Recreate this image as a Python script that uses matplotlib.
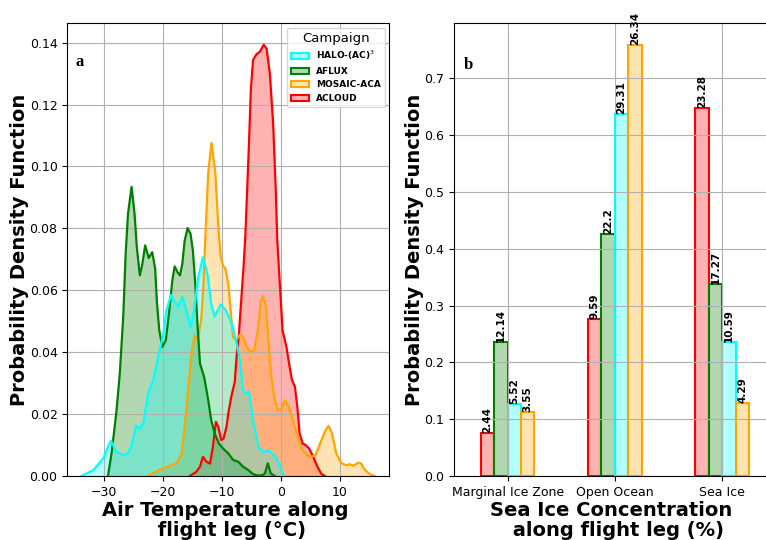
import matplotlib
matplotlib.use("Agg")
import matplotlib.pyplot as plt
from matplotlib.patches import Patch

# ---------------- data ----------------
campaigns = ["HALO-(AC)$^3$", "AFLUX", "MOSAIC-ACA", "ACLOUD"]
colors = {"HALO-(AC)$^3$": "cyan", "AFLUX": "green",
          "MOSAIC-ACA": "orange", "ACLOUD": "red"}

# air temperature PDFs (temperature in deg C, density)
halo_t = [-33.8, -31.8, -30.1, -29.3, -28.8, -28.3, -27.9, -26.7, -25.9, -25.3,
          -24.5, -23.9, -23.3, -22.5, -21.6, -20.8, -19.9, -19.4, -18.6, -18.0,
          -17.4, -16.7, -16.0, -15.3, -14.7, -14.0, -13.2, -12.4, -11.8, -11.2,
          -10.2, -9.4, -8.4, -7.6, -6.9, -6.4, -5.9, -5.4, -4.7, -3.7, -3.0,
          -2.1, -1.0, -0.2, 0.5]
halo_pdf = [0.0, 0.0019, 0.0057, 0.0095, 0.0114, 0.0095, 0.0078, 0.0068, 0.0073, 0.0100,
            0.0163, 0.0154, 0.0170, 0.0266, 0.0310, 0.0384, 0.0460, 0.0535, 0.0585, 0.0562,
            0.0548, 0.0578, 0.0535, 0.0481, 0.0535, 0.0642, 0.0707, 0.0648, 0.0556, 0.0515,
            0.0554, 0.0537, 0.0497, 0.0438, 0.0374, 0.0277, 0.0266, 0.0274, 0.0180, 0.0089, 0.0078,
            0.0082, 0.0066, 0.0035, 0.0]

aflux_t = [-29.3, -28.7, -27.9, -27.3, -26.7, -26.3, -25.9, -25.3, -24.8, -24.4,
           -23.9, -23.5, -23.0, -22.4, -21.8, -21.3, -21.0, -20.6, -20.1, -19.5,
           -18.9, -18.4, -18.0, -17.5, -17.1, -16.7, -16.3, -15.8, -15.3, -14.9,
           -14.5, -14.1, -13.7, -13.0, -12.3, -11.8, -11.2, -10.5, -9.8, -8.9,
           -8.1, -7.2, -6.4, -5.5, -4.7, -4.0, -3.2, -2.7, -2.2, -1.7, -1.0]
aflux_pdf = [0.0, 0.0073, 0.0202, 0.0330, 0.0520, 0.0720, 0.0848, 0.0934, 0.0848, 0.0737,
             0.0648, 0.0682, 0.0745, 0.0704, 0.0723, 0.0670, 0.0560, 0.0470, 0.0417, 0.0438,
             0.0535, 0.0631, 0.0677, 0.0658, 0.0648, 0.0685, 0.0760, 0.0801, 0.0782, 0.0728,
             0.0621, 0.0481, 0.0363, 0.0320, 0.0245, 0.0180, 0.0137, 0.0105, 0.0089, 0.0073,
             0.0052, 0.0046, 0.0030, 0.0019, 0.0006, 0.0002, 0.0002, 0.0008, 0.0041, 0.0008, 0.0]

mosaic_t = [-22.5, -20.5, -18.8, -17.6, -16.8, -16.3, -15.7, -15.1, -14.6, -14.1,
            -13.5, -13.1, -12.7, -12.3, -11.75, -11.1, -10.6, -10.2, -9.8, -9.4,
            -8.9, -8.5, -8.1, -7.6, -6.9, -6.4, -5.8, -5.1, -4.5, -3.8,
            -3.4, -3.0, -2.5, -2.1, -1.6, -1.0, -0.5, 0.1, 0.7, 1.2,
            1.9, 2.7, 3.5, 4.4, 5.2, 5.9, 6.9, 7.6, 8.1, 8.7,
            9.4, 10.3, 11.1, 11.7, 12.3, 13.1, 13.6, 14.2, 15.1, 15.9]
mosaic_pdf = [0.0, 0.0021, 0.0033, 0.0043, 0.0073, 0.0159, 0.0277, 0.0406, 0.0454, 0.0438,
              0.0504, 0.0626, 0.0815, 0.0980, 0.1076, 0.0980, 0.0810, 0.0710, 0.0680, 0.0670,
              0.0620, 0.0535, 0.0449, 0.0438, 0.0457, 0.0449, 0.0417, 0.0400, 0.0406, 0.0481,
              0.0567, 0.0581, 0.0546, 0.0438, 0.0320, 0.0245, 0.0213, 0.0215, 0.0245, 0.0229,
              0.0191, 0.0137, 0.0089, 0.0068, 0.0062, 0.0068, 0.0116, 0.0148, 0.0162, 0.0137,
              0.0073, 0.0041, 0.0035, 0.0038, 0.0033, 0.0043, 0.0041, 0.0021, 0.0006, 0.0]

acloud_t = [-15.4, -14.3, -13.7, -13.2, -12.6, -12.0, -11.5, -11.0, -10.6, -10.1,
            -9.7, -9.2, -8.9, -8.4, -7.8, -7.5, -7.1, -6.7, -6.3, -6.0,
            -5.7, -5.37, -5.08, -4.7, -4.1, -3.56, -2.9, -2.4, -1.86, -1.3,
            -0.85, -0.6, -0.1, 0.3, 0.96, 1.5, 1.9, 2.4, 2.8, 3.2,
            3.7, 4.2, 4.8, 5.5, 6.2, 6.9, 7.5]
acloud_pdf = [0.0, 0.0014, 0.0030, 0.0062, 0.0046, 0.0040, 0.0095, 0.0175, 0.0159, 0.0116,
              0.0121, 0.0160, 0.0202, 0.0256, 0.0304, 0.0384, 0.0460, 0.0570, 0.0680, 0.0780,
              0.0924, 0.1086, 0.1247, 0.1344, 0.1363, 0.1370, 0.1393, 0.1380, 0.1300, 0.1140,
              0.0924, 0.0763, 0.0600, 0.0470, 0.0417, 0.0352, 0.0310, 0.0288, 0.0223, 0.0137,
              0.0105, 0.0100, 0.0089, 0.0062, 0.0030, 0.0006, 0.0]

# sea ice concentration classes
sic_classes = ["Marginal Ice Zone", "Open Ocean", "Sea Ice"]
sic_acloud = [0.0763, 0.2758, 0.6484]
sic_aflux = [0.2365, 0.4260, 0.3374]
sic_halo = [0.1267, 0.6366, 0.2365]
sic_mosaic = [0.1127, 0.7593, 0.1291]
lab_acloud = ["2.44", "9.59", "23.28"]
lab_aflux = ["12.14", "22.2", "17.27"]
lab_halo = ["5.52", "29.31", "10.59"]
lab_mosaic = ["3.55", "26.34", "4.29"]

# ---------------- figure ----------------
W, H = 766, 540
fig = plt.figure(figsize=(W / 100, H / 100), dpi=100)
ax1 = fig.add_axes([67.3 / W, 64 / H, 322 / W, 452.6 / H])
ax2 = fig.add_axes([454 / W, 64 / H, 321.8 / W, 452.6 / H])

ALPHA = 0.3
LW = 1.6
LABEL_KW = dict(fontsize=14, fontweight="bold")

# panel a: temperature densities (drawn back to front)
curves = [("ACLOUD", acloud_t, acloud_pdf),
          ("MOSAIC-ACA", mosaic_t, mosaic_pdf),
          ("AFLUX", aflux_t, aflux_pdf),
          ("HALO-(AC)$^3$", halo_t, halo_pdf)]
for name, t, p in curves:
    c = colors[name]
    ax1.fill_between(t, p, 0, color=c, alpha=ALPHA, linewidth=0)
    ax1.plot(t, p, color=c, lw=LW)

ax1.set_xlim(-36.2, 18.4)
ax1.set_ylim(0, 0.1462)
ax1.set_xticks([-30, -20, -10, 0, 10])
ax1.set_yticks([0, 0.02, 0.04, 0.06, 0.08, 0.10, 0.12, 0.14])
ax1.yaxis.set_major_formatter(matplotlib.ticker.FormatStrFormatter("%.2f"))
ax1.grid(True)
ax1.tick_params(labelsize=9)
ax1.set_xlabel("Air Temperature along \n flight leg (°C)", labelpad=1.5,
               linespacing=1.08, **LABEL_KW)
ax1.set_ylabel("Probability Density Function", labelpad=0.5, **LABEL_KW)
ax1.text(0.024, 0.906, "a", transform=ax1.transAxes, fontsize=12,
         fontweight="bold", family="Liberation Serif", va="baseline")

handles = [Patch(facecolor=matplotlib.colors.to_rgba(colors[n], ALPHA),
                 edgecolor=colors[n], linewidth=1.5, label=n) for n in campaigns]
ax1.legend(handles=handles, title="Campaign", loc="upper right",
           prop={"weight": "bold", "size": 6.5}, title_fontsize=9.5)

# panel b: sea ice concentration fractions
bw = 0.125
xs = range(len(sic_classes))
bar_sets = [("ACLOUD", sic_acloud, lab_acloud),
            ("AFLUX", sic_aflux, lab_aflux),
            ("HALO-(AC)$^3$", sic_halo, lab_halo),
            ("MOSAIC-ACA", sic_mosaic, lab_mosaic)]
for i, (name, vals, labs) in enumerate(bar_sets):
    c = colors[name]
    pos = [x + (i - 1.5) * bw for x in xs]
    bars = ax2.bar(pos, vals, width=bw, facecolor=matplotlib.colors.to_rgba(c, ALPHA),
                   edgecolor=c, linewidth=1.5)
    for b, lab in zip(bars, labs):
        ax2.text(b.get_x() + b.get_width() / 2, b.get_height(), lab, rotation=90,
                 ha="center", va="bottom", fontsize=7.5, fontweight="bold")

ax2.set_xlim(-0.5, 2.5)
ax2.set_ylim(0, 0.797)
ax2.set_xticks(list(xs))
ax2.set_xticklabels(sic_classes)
ax2.set_yticks([0, 0.1, 0.2, 0.3, 0.4, 0.5, 0.6, 0.7])
ax2.yaxis.set_major_formatter(matplotlib.ticker.FormatStrFormatter("%.1f"))
ax2.grid(True)
ax2.tick_params(labelsize=9)
ax2.set_xlabel("Sea Ice Concentration \n along flight leg (%)", labelpad=1.5,
               linespacing=1.08, **LABEL_KW)
ax2.set_ylabel("Probability Density Function", labelpad=0.5, **LABEL_KW)
ax2.text(0.031, 0.899, "b", transform=ax2.transAxes, fontsize=12,
         fontweight="bold", family="Liberation Serif", va="baseline")

fig.savefig("out.png", dpi=100)
